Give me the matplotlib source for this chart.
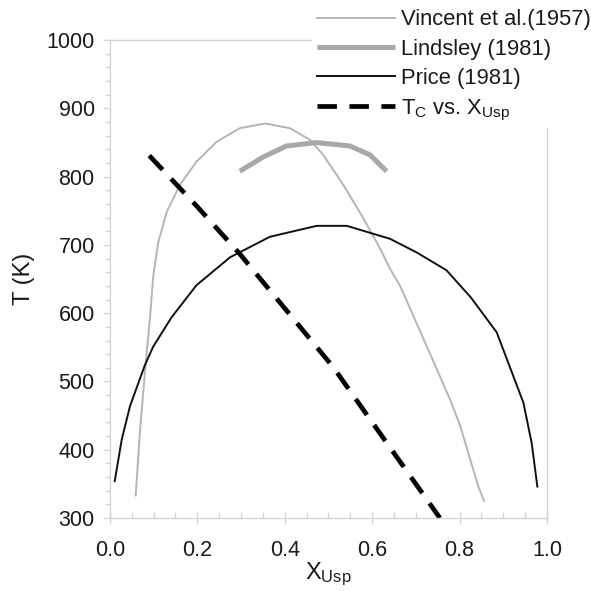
import matplotlib
matplotlib.use("Agg")
import matplotlib.pyplot as plt
from matplotlib.ticker import MultipleLocator, FormatStrFormatter

plt.rcParams['font.family'] = ['Liberation Sans', 'DejaVu Sans']
plt.rcParams['mathtext.fontset'] = 'custom'
plt.rcParams['mathtext.rm'] = 'Liberation Sans'
plt.rcParams['mathtext.it'] = 'Liberation Sans'
plt.rcParams['lines.scale_dashes'] = False

# Solvus curves, T (K) against usp mole fraction
vincent_x = [0.059, 0.069, 0.080, 0.0915, 0.0992, 0.1106, 0.1297, 0.160, 0.198,
             0.244, 0.297, 0.355, 0.412, 0.458, 0.488, 0.534, 0.580, 0.618,
             0.641, 0.664, 0.728, 0.778, 0.801, 0.843, 0.856]
vincent_t = [333, 430, 513, 592, 655, 704, 748, 788, 822,
             851, 871, 878, 871, 854, 832, 788, 739, 695,
             665, 640, 547, 474, 436, 346, 325]

lindsley_x = [0.297, 0.351, 0.404, 0.473, 0.549, 0.595, 0.633]
lindsley_t = [808, 829, 845, 850, 845, 832, 808]

price_x = [0.011, 0.027, 0.046, 0.08, 0.099, 0.141, 0.198, 0.275, 0.366, 0.473,
           0.542, 0.641, 0.702, 0.770, 0.826, 0.885, 0.946, 0.965, 0.978]
price_t = [354, 415, 464, 524, 551, 594, 641, 682, 712, 728,
           728, 709, 689, 663, 623, 572, 469, 410, 346]

# Curie temperature against usp content
tc_x = [0.09, 0.2, 0.297, 0.408, 0.511, 0.576, 0.66, 0.755]
tc_t = [831, 756, 687, 601, 521, 462, 386, 300]

labels = ['Vincent et al.(1957)', 'Lindsley (1981)', 'Price (1981)',
          r'T$_\mathrm{C}$ vs. X$_\mathrm{Usp}$']

fig = plt.figure(figsize=(5.91, 5.91), dpi=100)
ax = fig.add_axes([0.186, 0.1235, 0.7395, 0.8085])

ax.plot(vincent_x, vincent_t, color='#b5b5b5', lw=1.4, label=labels[0])
ax.plot(lindsley_x, lindsley_t, color='#a8a8a8', lw=3.6, label=labels[1],
        solid_capstyle='butt')
ax.plot(price_x, price_t, color='#111111', lw=1.4, label=labels[2])
ax.plot(tc_x, tc_t, color='black', lw=3.4, linestyle=(0, (14, 9)),
        dash_capstyle='butt', label=labels[3])

ax.set_xlim(0, 1.0)
ax.set_ylim(300, 1000)
ax.xaxis.set_major_locator(MultipleLocator(0.2))
ax.xaxis.set_minor_locator(MultipleLocator(0.05))
ax.yaxis.set_major_locator(MultipleLocator(100))
ax.yaxis.set_minor_locator(MultipleLocator(20))
ax.xaxis.set_major_formatter(FormatStrFormatter('%.1f'))

spine_c = '#d4d4d4'
for s in ax.spines.values():
    s.set_color(spine_c)
    s.set_linewidth(1.0)

ax.tick_params(axis='x', which='major', direction='inout', length=9, width=1.0,
               color=spine_c, labelsize=15.5, pad=11, labelcolor='#1a1a1a')
ax.tick_params(axis='x', which='minor', direction='in', length=4, width=1.0,
               color=spine_c)
ax.tick_params(axis='y', which='major', direction='out', length=5, width=1.0,
               color=spine_c, labelsize=15.5, pad=6, labelcolor='#1a1a1a')
ax.tick_params(axis='y', which='minor', direction='out', length=3.5, width=1.0,
               color=spine_c)

ax.set_xlabel(r'X$_\mathrm{Usp}$', fontsize=17, color='#1a1a1a', labelpad=0)
ax.set_ylabel('T (K)', fontsize=17, color='#1a1a1a', labelpad=8)

handles, labs = ax.get_legend_handles_labels()
leg = fig.legend(handles, labs, loc='upper right',
                 bbox_to_anchor=(1.0 + 5 / 591, 1.0 - 4 / 591),
                 bbox_transform=fig.transFigure, fontsize=15.8,
                 handlelength=3.55, handletextpad=0.25, labelspacing=0.38,
                 borderpad=0.25, borderaxespad=0.0, frameon=True,
                 fancybox=False, framealpha=1.0)
leg.get_frame().set_facecolor('white')
leg.get_frame().set_edgecolor('none')
for t in leg.get_texts():
    t.set_color('#1a1a1a')

fig.savefig('out.png', dpi=100, facecolor='white')
